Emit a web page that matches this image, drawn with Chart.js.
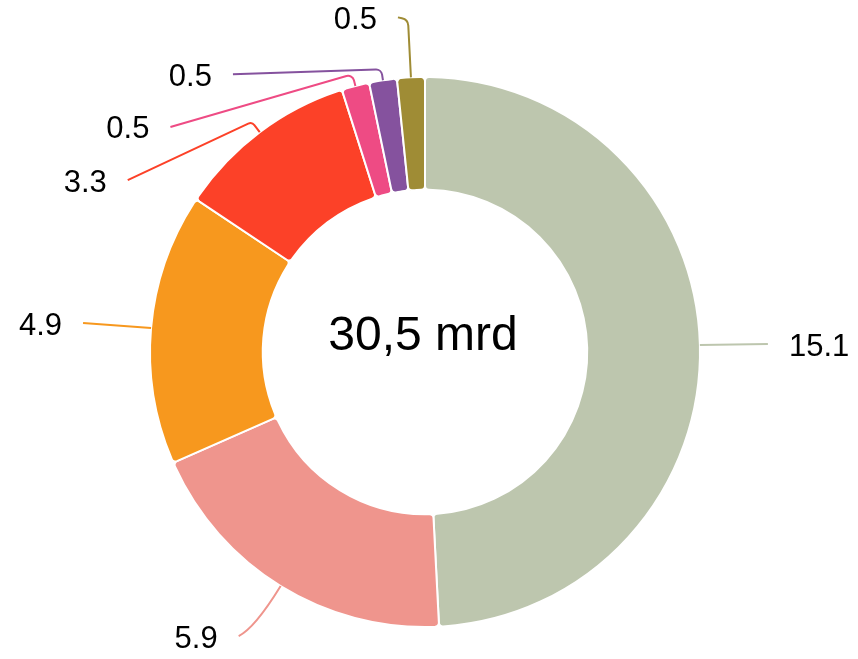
<!DOCTYPE html>
<html>
<head>
<meta charset="utf-8">
<script src="https://cdn.jsdelivr.net/npm/chart.js@4/dist/chart.umd.min.js"></script>
<style>
  html, body { margin: 0; padding: 0; background: #ffffff; }
  #chartBox { width: 858px; height: 659px; }
</style>
</head>
<body>
<div id="chartBox"><canvas id="donutChart" width="858" height="659"></canvas></div>
<script>
// Chart data (clockwise from the top)
const CATEGORY_LIST = ["A", "B", "C", "D", "E", "F", "G"];
const VALUE_LIST = [15.1, 5.9, 4.9, 3.3, 0.5, 0.5, 0.5];
const COLOR_LIST = ["#BDC6AE", "#EF958D", "#F7981E", "#FC4128", "#EE4B84", "#85529E", "#9F8C35"];
const CENTER_LABEL = "30,5 mrd";

// Leader line layout per slice: radial elbow length, end offset from the arc edge, corner radius
// (r < 0 means a smooth quadratic bend through the elbow point)
const LEADER_LIST = [
  { elbow: 0, dx: 68, dy: -1, r: 0 },
  { elbow: 50, dx: -42, dy: 50, r: -1 },
  { elbow: 0, dx: -68, dy: -5, r: 0 },
  { elbow: 13, dx: -132, dy: 48, r: 5 },
  { elbow: 12, dx: -185, dy: 41, r: 6 },
  { elbow: 11, dx: -150, dy: -6, r: 6 },
  { elbow: 58, dx: -13, dy: -60, r: 8 }
];

const LABEL_FONT = "31px 'Liberation Sans', Arial, sans-serif";
const CENTER_FONT = "48px 'Liberation Sans', Arial, sans-serif";

/**
 * Draw the outside value labels with their leader lines, and the centre text.
 */
const leaderLabelPlugin = {
  id: "leaderLabels",
  afterDatasetsDraw(chart) {
    const ctx = chart.ctx;
    const meta = chart.getDatasetMeta(0);

    meta.data.forEach((arc, i) => {
      const props = arc.getProps(["x", "y", "startAngle", "endAngle", "outerRadius"], true);
      const mid = (props.startAngle + props.endAngle) / 2;
      const cosA = Math.cos(mid);
      const sinA = Math.sin(mid);
      const x0 = props.x + cosA * props.outerRadius;
      const y0 = props.y + sinA * props.outerRadius;
      const lead = LEADER_LIST[i];
      const endX = x0 + lead.dx;
      const endY = y0 + lead.dy;

      ctx.save();
      ctx.strokeStyle = COLOR_LIST[i];
      ctx.lineWidth = 2;
      ctx.beginPath();
      ctx.moveTo(x0, y0);
      if (lead.elbow > 0) {
        const x1 = x0 + cosA * lead.elbow;
        const y1 = y0 + sinA * lead.elbow;
        if (lead.r < 0) {
          ctx.quadraticCurveTo(x1, y1, endX, endY);
        } else {
          ctx.arcTo(x1, y1, endX, endY, lead.r);
        }
      }
      ctx.lineTo(endX, endY);
      ctx.stroke();

      ctx.fillStyle = "#000000";
      ctx.font = LABEL_FONT;
      ctx.textBaseline = "middle";
      if (lead.dx >= 0) {
        ctx.textAlign = "left";
        ctx.fillText(VALUE_LIST[i].toFixed(1), endX + 21, endY + 3);
      } else {
        ctx.textAlign = "right";
        ctx.fillText(VALUE_LIST[i].toFixed(1), endX - 21, endY + 3);
      }
      ctx.restore();
    });

    // Centre total
    const first = meta.data[0];
    ctx.save();
    ctx.fillStyle = "#000000";
    ctx.font = CENTER_FONT;
    ctx.textAlign = "center";
    ctx.textBaseline = "alphabetic";
    ctx.fillText(CENTER_LABEL, first.x - 2, first.y - 2);
    ctx.restore();
  }
};

const CTX = document.getElementById("donutChart").getContext("2d");

new Chart(CTX, {
  type: "doughnut",
  data: {
    labels: CATEGORY_LIST,
    datasets: [{
      data: VALUE_LIST,
      backgroundColor: COLOR_LIST,
      borderColor: "#ffffff",
      borderWidth: 2,
      borderRadius: 4
    }]
  },
  options: {
    responsive: false,
    animation: false,
    cutout: "59%",
    layout: {
      padding: { top: 76, bottom: 31, left: 0, right: 8 }
    },
    plugins: {
      legend: { display: false },
      tooltip: { enabled: false }
    }
  },
  plugins: [leaderLabelPlugin]
});
</script>
</body>
</html>
